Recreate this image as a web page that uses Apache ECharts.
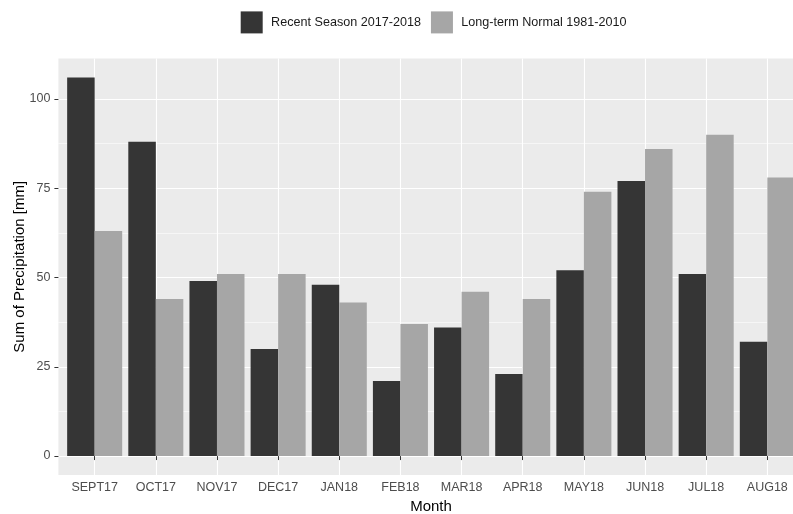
<!DOCTYPE html>
<html>
<head>
<meta charset="utf-8">
<script src="https://cdn.jsdelivr.net/npm/echarts@6/dist/echarts.min.js"></script>
<style>
html,body{margin:0;padding:0;background:#fff;}
#chart{width:793px;height:514px;}
</style>
</head>
<body>
<div id="chart"></div>
<script>
const categories = ['SEPT17','OCT17','NOV17','DEC17','JAN18','FEB18','MAR18','APR18','MAY18','JUN18','JUL18','AUG18'];
const recentSeason = [106, 88, 49, 30, 48, 21, 36, 23, 52, 77, 51, 32];
const longTermNormal = [63, 44, 51, 51, 43, 37, 46, 44, 74, 86, 90, 78];
const seriesNames = ['Recent Season 2017-2018', 'Long-term Normal 1981-2010'];
const yTickMin = 0, yTickMax = 100, yTickStep = 25;
const yExpandMin = -5.3, yExpandMax = 111.3;

const FONT = 'Liberation Sans, Arial, Helvetica, sans-serif';
const chart = echarts.init(document.getElementById('chart'), null, {renderer: 'canvas'});

const option = {
  animation: false,
  backgroundColor: '#ffffff',
  textStyle: {fontFamily: FONT},
  legend: {
    data: seriesNames,
    left: 240.7,
    top: 11.4,
    padding: 0,
    itemWidth: 22,
    itemHeight: 22,
    itemGap: 10,
    icon: 'rect',
    textStyle: {fontFamily: FONT, fontSize: 12.6, color: '#1a1a1a', padding: [0, 0, 0, 3.4]}
  },
  grid: [
    {left: 58.4, width: 745.6, top: 58.6, height: 416.4, show: true, backgroundColor: '#EBEBEB', borderWidth: 0, containLabel: false, outerBoundsMode: 'none'},
    {left: 58.4, width: 745.6, top: 99, height: 357, show: false, containLabel: false, outerBoundsMode: 'none'},
    {left: 64.1, width: 733.8, top: 58.6, height: 416.4, show: false, containLabel: false, outerBoundsMode: 'none'}
  ],
  xAxis: [
    {gridIndex: 0, type: 'value', show: false},
    {gridIndex: 1, type: 'value', show: false},
    {
      gridIndex: 2, type: 'category', data: categories,
      axisLine: {show: false},
      axisTick: {show: true, alignWithLabel: true, length: 4, lineStyle: {color: '#333333', width: 1}},
      axisLabel: {color: '#4D4D4D', fontSize: 12.5, margin: 6, fontFamily: FONT},
      splitLine: {show: true, alignWithLabel: true, lineStyle: {color: '#ffffff', width: 1.1}},
      name: 'Month', nameLocation: 'middle', nameGap: 23,
      nameTextStyle: {color: '#000000', fontSize: 15, fontFamily: FONT}
    }
  ],
  yAxis: [
    {
      gridIndex: 0, type: 'value', min: yExpandMin, max: yExpandMax,
      axisLine: {show: false}, axisTick: {show: false}, axisLabel: {show: false}, splitLine: {show: false},
      name: 'Sum of Precipitation [mm]', nameLocation: 'middle', nameGap: 31, nameRotate: 90,
      nameTextStyle: {color: '#000000', fontSize: 15, fontFamily: FONT}
    },
    {
      gridIndex: 1, type: 'value', min: yTickMin, max: yTickMax, interval: yTickStep,
      axisLine: {show: false},
      axisTick: {show: true, length: 4, lineStyle: {color: '#333333', width: 1}},
      axisLabel: {color: '#4D4D4D', fontSize: 12.5, margin: 8, fontFamily: FONT},
      splitLine: {show: true, lineStyle: {color: '#ffffff', width: 1.1}},
      minorTick: {show: false, splitNumber: 2},
      minorSplitLine: {show: true, lineStyle: {color: '#ffffff', width: 0.55}}
    },
    {gridIndex: 2, type: 'value', min: yExpandMin, max: yExpandMax, show: false}
  ],
  series: [
    {
      name: seriesNames[0], type: 'bar', xAxisIndex: 2, yAxisIndex: 2,
      data: recentSeason, barGap: '0%', barCategoryGap: '10%',
      itemStyle: {color: '#353535'}
    },
    {
      name: seriesNames[1], type: 'bar', xAxisIndex: 2, yAxisIndex: 2,
      data: longTermNormal, barGap: '0%', barCategoryGap: '10%',
      itemStyle: {color: '#A6A6A6'}
    }
  ]
};
chart.setOption(option);
</script>
</body>
</html>
